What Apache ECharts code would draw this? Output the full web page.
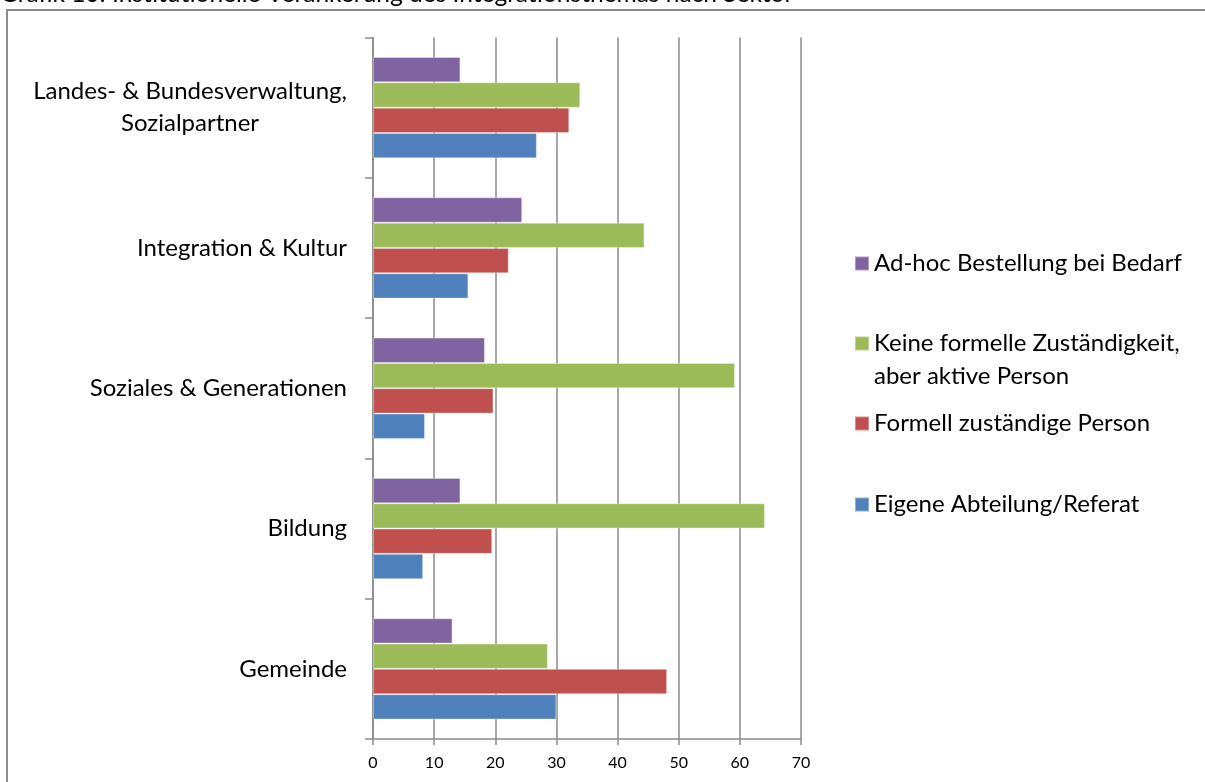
<!DOCTYPE html>
<html>
<head>
<meta charset="utf-8">
<script src="https://cdn.jsdelivr.net/npm/echarts@6/dist/echarts.min.js"></script>
<style>
html,body{margin:0;padding:0;background:#fff;}
#chart{width:1205px;height:782px;}
</style>
</head>
<body>
<div id="chart"></div>
<script>
// Categories (bottom to top, as on the axis)
const categories = ['Gemeinde', 'Bildung', 'Soziales & Generationen', 'Integration & Kultur', 'Landes- & Bundesverwaltung,\nSozialpartner'];
// Series names
const seriesNames = ['Eigene Abteilung/Referat', 'Formell zuständige Person', 'Keine formelle Zuständigkeit,\naber aktive Person', 'Ad-hoc Bestellung bei Bedarf'];
// Values (percent)
const eigeneAbteilung = [30.0, 8.2, 8.5, 15.6, 26.8];
const formellZustaendig = [48.1, 19.5, 19.7, 22.2, 32.1];
const keineFormelle = [28.6, 64.1, 59.2, 44.4, 33.9];
const adHoc = [13.0, 14.3, 18.3, 24.4, 14.3];
// Value axis ticks
const valueTicks = [0, 10, 20, 30, 40, 50, 60, 70];

const colors = ['#4F81BD', '#C0504D', '#9BBB59', '#8064A2'];
const seriesData = [eigeneAbteilung, formellZustaendig, keineFormelle, adHoc];
const FONT = 'Lato';
const LABEL_SIZE = 24;
const GRID_COLOR = '#8a8a8a';

const chart = echarts.init(document.getElementById('chart'));

function legendFor(idx, top) {
  return {
    data: [seriesNames[idx]],
    left: 854,
    top: top,
    padding: 0,
    orient: 'vertical',
    itemWidth: 14,
    itemHeight: 14,
    icon: 'rect',
    selectedMode: false,
    formatter: function (name) {
      const lines = name.split('\n');
      if (lines.length > 1) {
        return '{e| }\n' + lines.map(function (s) { return '{a|' + s + '}'; }).join('\n');
      }
      return '{a|' + name + '}';
    },
    textStyle: {
      fontFamily: FONT,
      fontSize: LABEL_SIZE,
      color: '#000',
      lineHeight: 33,
      rich: {
        a: { fontFamily: FONT, fontSize: LABEL_SIZE, color: '#000', lineHeight: 33 },
        e: { fontFamily: FONT, fontSize: LABEL_SIZE, lineHeight: 33 }
      }
    }
  };
}

// draw order: first series sits on top of each group
const drawOrder = [3, 2, 1, 0];

const option = {
  animation: false,
  backgroundColor: '#fff',
  title: {
    text: 'Grafik 10: Institutionelle Verankerung des Integrationsthemas nach Sektor',
    left: 0,
    top: -18,
    padding: 0,
    textStyle: { fontFamily: FONT, fontSize: 24.5, fontWeight: 'normal', color: '#000', lineHeight: 24 }
  },
  graphic: [{
    type: 'rect',
    shape: { x: 7, y: 10, width: 1400, height: 1000 },
    style: { fill: 'none', stroke: '#8c8c8c', lineWidth: 2 },
    silent: true,
    z: -10
  }],
  legend: [
    legendFor(3, 247),
    legendFor(2, 294),
    legendFor(1, 407),
    legendFor(0, 488)
  ],
  grid: { left: 373, right: 404, top: 37.5, bottom: 43, containLabel: false },
  xAxis: {
    type: 'value',
    min: valueTicks[0],
    max: valueTicks[valueTicks.length - 1],
    interval: 10,
    axisLine: { show: true, lineStyle: { color: GRID_COLOR, width: 1.5 } },
    axisTick: { show: true, inside: false, length: 6, lineStyle: { color: GRID_COLOR, width: 1.5 } },
    splitLine: { show: true, lineStyle: { color: GRID_COLOR, width: 1.5 } },
    axisLabel: { fontFamily: FONT, fontSize: 16, color: '#000', margin: 16 }
  },
  yAxis: {
    type: 'category',
    data: categories,
    axisLine: { show: true, lineStyle: { color: GRID_COLOR, width: 1.5 } },
    axisTick: { show: true, alignWithLabel: false, length: 8, lineStyle: { color: GRID_COLOR, width: 1.5 } },
    axisLabel: {
      margin: 26,
      fontFamily: FONT,
      fontSize: LABEL_SIZE,
      color: '#000',
      lineHeight: 32,
      formatter: function (v) {
        return v.split('\n').map(function (s) { return '{c|' + s + '}'; }).join('\n');
      },
      rich: { c: { fontFamily: FONT, fontSize: LABEL_SIZE, color: '#000', lineHeight: 32, align: 'center' } }
    }
  },
  series: drawOrder.map(function (i) {
    return {
      name: seriesNames[i],
      type: 'bar',
      data: seriesData[i],
      barGap: '0%',
      barCategoryGap: '27.8%',
      itemStyle: { color: colors[i], borderColor: 'rgba(255,255,255,0.35)', borderWidth: 1 }
    };
  })
};

chart.setOption(option);
</script>
</body>
</html>
